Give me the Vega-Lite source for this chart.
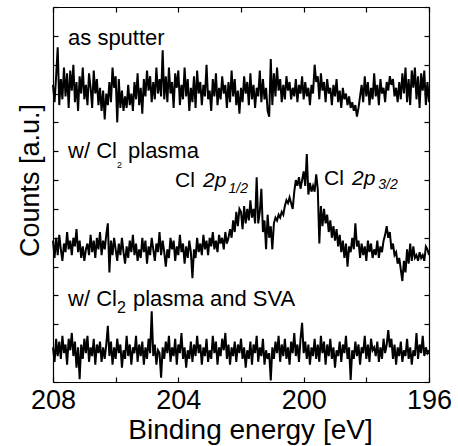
{
  "$schema": "https://vega.github.io/schema/vega-lite/v6.json",
  "width": 376,
  "height": 375,
  "autosize": {"type": "none"},
  "padding": {"left": 53, "top": 7, "right": 29, "bottom": 64},
  "background": "white",
  "config": {
    "view": {"stroke": null},
    "font": "Liberation Sans",
    "axis": {
      "domainColor": "black", "domainWidth": 1.2,
      "tickColor": "black", "tickWidth": 1.2, "tickSize": -5,
      "grid": false,
      "labelFont": "Liberation Sans", "titleFont": "Liberation Sans",
      "labelColor": "black", "titleColor": "black", "titleFontWeight": "normal"
    }
  },
  "datasets": {
    "spectra": [
      {"x":208,"a":10.3,"b":4.9,"c":1.2},{"x":207.95,"a":9.7,"b":4.3,"c":0.7},{"x":207.9,"a":10.6,"b":5.0,"c":1.5},{"x":207.85,"a":11.6,"b":4.4,"c":0.9},{"x":207.8,"a":9.6,"b":5.1,"c":1.4},{"x":207.75,"a":10.5,"b":4.6,"c":0.8},{"x":207.7,"a":9.8,"b":4.2,"c":1.6},{"x":207.65,"a":10.9,"b":4.8,"c":1.0},{"x":207.6,"a":9.9,"b":4.5,"c":1.3},{"x":207.55,"a":10.7,"b":5.2,"c":0.6},
      {"x":207.5,"a":9.5,"b":4.6,"c":1.5},{"x":207.45,"a":10.8,"b":4.9,"c":1.1},{"x":207.4,"a":10.1,"b":4.4,"c":1.7},{"x":207.35,"a":11.0,"b":5.0,"c":0.9},{"x":207.3,"a":9.7,"b":4.7,"c":1.4},{"x":207.25,"a":10.4,"b":5.3,"c":0.5},{"x":207.2,"a":9.4,"b":4.5,"c":1.2},{"x":207.15,"a":10.6,"b":4.9,"c":0.1},{"x":207.1,"a":10.0,"b":4.3,"c":1.3},{"x":207.05,"a":10.9,"b":4.7,"c":0.8},
      {"x":207,"a":9.8,"b":4.2,"c":1.5},{"x":206.95,"a":10.3,"b":4.6,"c":1.0},{"x":206.9,"a":9.6,"b":4.8,"c":1.6},{"x":206.85,"a":10.7,"b":4.4,"c":0.7},{"x":206.8,"a":10.2,"b":5.1,"c":1.2},{"x":206.75,"a":9.5,"b":4.5,"c":0.9},{"x":206.7,"a":10.8,"b":4.9,"c":1.5},{"x":206.65,"a":10.0,"b":4.3,"c":0.6},{"x":206.6,"a":10.5,"b":5.0,"c":1.3},{"x":206.55,"a":9.6,"b":4.6,"c":1.0},
      {"x":206.5,"a":10.2,"b":5.2,"c":1.4},{"x":206.45,"a":9.4,"b":4.4,"c":0.7},{"x":206.4,"a":10.1,"b":4.9,"c":1.2},{"x":206.35,"a":9.1,"b":4.6,"c":0.8},{"x":206.3,"a":10.0,"b":5.1,"c":1.3},{"x":206.25,"a":9.6,"b":5.5,"c":1.95},{"x":206.2,"a":10.4,"b":3.8,"c":0.9},{"x":206.15,"a":9.7,"b":4.9,"c":1.4},{"x":206.1,"a":10.9,"b":4.4,"c":0.6},{"x":206.05,"a":10.2,"b":5.0,"c":1.2},
      {"x":206,"a":10.6,"b":4.6,"c":0.8},{"x":205.95,"a":9.0,"b":4.2,"c":1.5},{"x":205.9,"a":10.5,"b":4.8,"c":1.0},{"x":205.85,"a":9.5,"b":4.4,"c":1.3},{"x":205.8,"a":10.1,"b":5.0,"c":0.5},{"x":205.75,"a":9.4,"b":4.5,"c":1.1},{"x":205.7,"a":9.9,"b":4.1,"c":0.8},{"x":205.65,"a":9.5,"b":4.7,"c":1.6},{"x":205.6,"a":10.3,"b":4.3,"c":0.9},{"x":205.55,"a":9.6,"b":4.9,"c":1.3},
      {"x":205.5,"a":10.0,"b":4.5,"c":0.6},{"x":205.45,"a":9.4,"b":5.1,"c":1.2},{"x":205.4,"a":10.4,"b":4.4,"c":1.0},{"x":205.35,"a":9.8,"b":4.8,"c":1.6},{"x":205.3,"a":10.7,"b":4.2,"c":0.7},{"x":205.25,"a":9.6,"b":4.6,"c":1.3},{"x":205.2,"a":10.2,"b":4.3,"c":0.9},{"x":205.15,"a":9.3,"b":5.0,"c":1.4},{"x":205.1,"a":10.5,"b":4.5,"c":0.6},{"x":205.05,"a":9.9,"b":4.9,"c":1.2},
      {"x":205,"a":10.8,"b":4.1,"c":0.8},{"x":204.95,"a":10.1,"b":4.7,"c":1.5},{"x":204.9,"a":10.6,"b":4.4,"c":1.0},{"x":204.85,"a":9.7,"b":5.0,"c":2.45},{"x":204.8,"a":10.4,"b":4.6,"c":0.9},{"x":204.75,"a":9.8,"b":4.2,"c":1.3},{"x":204.7,"a":10.9,"b":4.8,"c":0.6},{"x":204.65,"a":10.0,"b":4.5,"c":1.1},{"x":204.6,"a":10.5,"b":5.2,"c":1.0},{"x":204.55,"a":9.9,"b":4.4,"c":0.15},
      {"x":204.5,"a":11.5,"b":4.9,"c":1.2},{"x":204.45,"a":9.8,"b":4.5,"c":0.8},{"x":204.4,"a":10.6,"b":4.0,"c":1.4},{"x":204.35,"a":9.7,"b":4.6,"c":1.0},{"x":204.3,"a":10.9,"b":4.3,"c":1.6},{"x":204.25,"a":10.0,"b":5.0,"c":0.7},{"x":204.2,"a":10.4,"b":4.6,"c":1.2},{"x":204.15,"a":9.5,"b":4.9,"c":0.9},{"x":204.1,"a":10.7,"b":4.2,"c":1.5},{"x":204.05,"a":10.2,"b":4.7,"c":0.6},
      {"x":204,"a":10.8,"b":4.4,"c":1.3},{"x":203.95,"a":9.6,"b":5.1,"c":1.0},{"x":203.9,"a":10.3,"b":4.5,"c":1.7},{"x":203.85,"a":9.8,"b":4.8,"c":0.8},{"x":203.8,"a":10.9,"b":4.1,"c":1.2},{"x":203.75,"a":9.9,"b":4.7,"c":0.5},{"x":203.7,"a":10.5,"b":4.3,"c":1.1},{"x":203.65,"a":9.4,"b":4.9,"c":0.8},{"x":203.6,"a":10.2,"b":4.5,"c":1.4},{"x":203.55,"a":9.7,"b":3.6,"c":0.7},
      {"x":203.5,"a":10.6,"b":4.6,"c":1.3},{"x":203.45,"a":9.5,"b":4.3,"c":0.9},{"x":203.4,"a":10.8,"b":5.0,"c":1.6},{"x":203.35,"a":10.0,"b":4.5,"c":1.0},{"x":203.3,"a":10.4,"b":4.8,"c":1.3},{"x":203.25,"a":9.6,"b":4.4,"c":0.6},{"x":203.2,"a":10.3,"b":5.1,"c":1.2},{"x":203.15,"a":9.9,"b":4.6,"c":0.9},{"x":203.1,"a":11.0,"b":4.9,"c":1.5},{"x":203.05,"a":9.8,"b":4.4,"c":0.7},
      {"x":203,"a":10.1,"b":5.0,"c":1.1},{"x":202.95,"a":9.4,"b":4.7,"c":0.8},{"x":202.9,"a":10.5,"b":5.2,"c":1.6},{"x":202.85,"a":9.9,"b":4.6,"c":1.0},{"x":202.8,"a":10.7,"b":4.9,"c":1.4},{"x":202.75,"a":9.6,"b":4.5,"c":0.6},{"x":202.7,"a":10.2,"b":5.1,"c":1.2},{"x":202.65,"a":9.8,"b":4.8,"c":0.9},{"x":202.6,"a":10.6,"b":5.0,"c":1.5},{"x":202.55,"a":10.0,"b":4.6,"c":1.1},
      {"x":202.5,"a":10.3,"b":5.2,"c":1.7},{"x":202.45,"a":9.5,"b":4.8,"c":0.8},{"x":202.4,"a":10.4,"b":5.0,"c":1.3},{"x":202.35,"a":9.7,"b":5.3,"c":0.6},{"x":202.3,"a":10.8,"b":5.0,"c":1.2},{"x":202.25,"a":9.9,"b":5.6,"c":0.9},{"x":202.2,"a":10.5,"b":5.2,"c":1.4},{"x":202.15,"a":9.6,"b":5.9,"c":0.7},{"x":202.1,"a":10.1,"b":5.4,"c":1.3},{"x":202.05,"a":9.3,"b":6.0,"c":1.0},
      {"x":202,"a":10.2,"b":5.9,"c":1.5},{"x":201.95,"a":9.7,"b":5.3,"c":0.8},{"x":201.9,"a":10.6,"b":6.1,"c":1.2},{"x":201.85,"a":10.0,"b":5.5,"c":0.5},{"x":201.8,"a":10.4,"b":6.0,"c":1.1},{"x":201.75,"a":9.6,"b":5.6,"c":0.8},{"x":201.7,"a":10.7,"b":6.3,"c":1.4},{"x":201.65,"a":9.8,"b":5.7,"c":0.6},{"x":201.6,"a":10.3,"b":6.0,"c":1.3},{"x":201.55,"a":9.5,"b":5.5,"c":1.0},
      {"x":201.5,"a":10.2,"b":7.1,"c":1.6},{"x":201.45,"a":9.9,"b":5.5,"c":0.7},{"x":201.4,"a":10.8,"b":5.9,"c":1.2},{"x":201.35,"a":9.7,"b":6.7,"c":0.9},{"x":201.3,"a":10.5,"b":5.2,"c":1.5},{"x":201.25,"a":9.8,"b":5.6,"c":0.6},{"x":201.2,"a":10.2,"b":4.6,"c":1.1},{"x":201.15,"a":9.4,"b":5.8,"c":0.8},{"x":201.1,"a":9.2,"b":5.0,"c":1.0},{"x":201.05,"a":11.2,"b":5.4,"c":0.05},
      {"x":201,"a":9.6,"b":4.6,"c":1.2},{"x":200.95,"a":10.7,"b":5.5,"c":0.8},{"x":200.9,"a":9.9,"b":5.7,"c":1.4},{"x":200.85,"a":10.9,"b":5.6,"c":1.0},{"x":200.8,"a":10.1,"b":5.8,"c":1.6},{"x":200.75,"a":10.5,"b":5.7,"c":0.7},{"x":200.7,"a":9.7,"b":5.9,"c":1.3},{"x":200.65,"a":10.3,"b":5.8,"c":0.9},{"x":200.6,"a":9.8,"b":6.1,"c":1.5},{"x":200.55,"a":10.6,"b":6.3,"c":0.8},
      {"x":200.5,"a":10.1,"b":6.2,"c":1.2},{"x":200.45,"a":10.4,"b":6.4,"c":0.6},{"x":200.4,"a":9.8,"b":6.2,"c":1.4},{"x":200.35,"a":10.2,"b":6.0,"c":1.0},{"x":200.3,"a":9.9,"b":6.6,"c":1.7},{"x":200.25,"a":10.5,"b":7.0,"c":0.9},{"x":200.2,"a":9.7,"b":6.8,"c":1.3},{"x":200.15,"a":10.3,"b":7.1,"c":0.7},{"x":200.1,"a":10.0,"b":6.7,"c":1.5},{"x":200.05,"a":10.6,"b":7.0,"c":2.05},
      {"x":200,"a":9.8,"b":7.3,"c":1.0},{"x":199.95,"a":10.4,"b":6.8,"c":1.4},{"x":199.9,"a":9.9,"b":7.9,"c":0.8},{"x":199.85,"a":10.2,"b":6.5,"c":1.3},{"x":199.8,"a":9.6,"b":6.9,"c":0.6},{"x":199.75,"a":10.3,"b":6.6,"c":1.2},{"x":199.7,"a":10.0,"b":6.8,"c":0.9},{"x":199.65,"a":11.0,"b":6.6,"c":1.5},{"x":199.6,"a":10.4,"b":7.2,"c":0.8},{"x":199.55,"a":10.6,"b":6.7,"c":1.3},
      {"x":199.5,"a":9.8,"b":4.8,"c":0.7},{"x":199.45,"a":10.7,"b":6.1,"c":1.6},{"x":199.4,"a":10.1,"b":5.4,"c":1.0},{"x":199.35,"a":10.4,"b":6.0,"c":1.4},{"x":199.3,"a":9.7,"b":5.5,"c":0.6},{"x":199.25,"a":10.5,"b":5.8,"c":1.3},{"x":199.2,"a":10.0,"b":5.2,"c":0.9},{"x":199.15,"a":10.2,"b":5.6,"c":1.5},{"x":199.1,"a":9.6,"b":5.0,"c":0.8},{"x":199.05,"a":10.3,"b":5.4,"c":1.2},
      {"x":199,"a":9.9,"b":4.9,"c":0.5},{"x":198.95,"a":10.5,"b":5.3,"c":1.1},{"x":198.9,"a":9.7,"b":4.7,"c":0.9},{"x":198.85,"a":10.1,"b":5.1,"c":1.4},{"x":198.8,"a":9.5,"b":4.5,"c":0.7},{"x":198.75,"a":10.2,"b":4.9,"c":1.3},{"x":198.7,"a":9.8,"b":4.3,"c":1.0},{"x":198.65,"a":10.0,"b":4.8,"c":1.6},{"x":198.6,"a":9.6,"b":4.0,"c":0.8},{"x":198.55,"a":9.9,"b":4.7,"c":1.2},
      {"x":198.5,"a":9.5,"b":4.5,"c":0.07},{"x":198.45,"a":9.7,"b":5.0,"c":1.1},{"x":198.4,"a":9.4,"b":4.6,"c":0.8},{"x":198.35,"a":9.6,"b":5.5,"c":1.4},{"x":198.3,"a":9.2,"b":4.7,"c":0.9},{"x":198.25,"a":9.5,"b":4.9,"c":1.3},{"x":198.2,"a":9.9,"b":4.3,"c":0.6},{"x":198.15,"a":10.3,"b":4.8,"c":1.2},{"x":198.1,"a":9.7,"b":4.4,"c":1.0},{"x":198.05,"a":10.6,"b":4.7,"c":1.6},
      {"x":198,"a":9.9,"b":4.2,"c":0.8},{"x":197.95,"a":10.4,"b":4.9,"c":1.3},{"x":197.9,"a":9.6,"b":4.5,"c":0.7},{"x":197.85,"a":10.2,"b":4.8,"c":1.5},{"x":197.8,"a":9.8,"b":4.3,"c":1.1},{"x":197.75,"a":10.7,"b":4.6,"c":1.2},{"x":197.7,"a":9.9,"b":4.4,"c":0.9},{"x":197.65,"a":10.3,"b":4.9,"c":1.4},{"x":197.6,"a":9.6,"b":4.3,"c":0.7},{"x":197.55,"a":10.5,"b":4.7,"c":1.2},
      {"x":197.5,"a":10.0,"b":4.5,"c":0.8},{"x":197.45,"a":10.2,"b":4.9,"c":1.5},{"x":197.4,"a":9.7,"b":5.1,"c":1.0},{"x":197.35,"a":10.4,"b":5.4,"c":1.3},{"x":197.3,"a":10.1,"b":5.0,"c":1.8},{"x":197.25,"a":10.6,"b":5.2,"c":1.2},{"x":197.2,"a":10.3,"b":4.6,"c":1.5},{"x":197.15,"a":10.5,"b":4.8,"c":0.8},{"x":197.1,"a":9.9,"b":4.4,"c":1.3},{"x":197.05,"a":10.2,"b":4.5,"c":0.6},
      {"x":197,"a":9.7,"b":4.1,"c":1.2},{"x":196.95,"a":10.4,"b":4.3,"c":0.9},{"x":196.9,"a":9.8,"b":3.9,"c":1.4},{"x":196.85,"a":10.7,"b":3.5,"c":0.7},{"x":196.8,"a":10.0,"b":4.2,"c":1.1},{"x":196.75,"a":10.9,"b":3.8,"c":0.9},{"x":196.7,"a":9.7,"b":4.6,"c":1.5},{"x":196.65,"a":10.5,"b":4.1,"c":0.8},{"x":196.6,"a":9.6,"b":4.8,"c":1.2},{"x":196.55,"a":10.8,"b":4.2,"c":0.6},
      {"x":196.5,"a":10.2,"b":4.7,"c":1.1},{"x":196.45,"a":10.9,"b":4.3,"c":0.9},{"x":196.4,"a":9.8,"b":4.4,"c":1.7},{"x":196.35,"a":10.6,"b":4.2,"c":0.8},{"x":196.3,"a":9.5,"b":4.5,"c":1.3},{"x":196.25,"a":10.7,"b":4.3,"c":1.0},{"x":196.2,"a":10.1,"b":4.4,"c":1.6},{"x":196.15,"a":10.8,"b":4.2,"c":0.9},{"x":196.1,"a":9.6,"b":4.7,"c":1.2},{"x":196.05,"a":10.4,"b":4.6,"c":1.0},{"x":196,"a":9.7,"b":4.4,"c":1.1}
    ]
  },
  "resolve": {"axis": {"x": "independent", "y": "independent"}},
  "layer": [
    {
      "data": {"name": "spectra"},
      "transform": [{"fold": ["a", "b", "c"], "as": ["trace", "counts"]}],
      "mark": {"type": "line", "color": "black", "strokeWidth": 2},
      "encoding": {
        "x": {
          "field": "x", "type": "quantitative",
          "scale": {"domain": [196, 208], "reverse": true, "nice": false, "zero": false},
          "axis": {
            "orient": "bottom",
            "values": [196, 198, 200, 202, 204, 206, 208],
            "labelExpr": "datum.value % 4 == 0 ? datum.label : ''",
            "labelFontSize": 27, "labelBaseline": "alphabetic", "labelPadding": 31,
            "labelFlush": false, "labelOverlap": false,
            "title": "Binding energy [eV]", "titleFontSize": 28,
            "titleX": 197, "titleY": 56, "titleBaseline": "alphabetic", "titleAlign": "center"
          }
        },
        "y": {
          "field": "counts", "type": "quantitative",
          "scale": {"domain": [0, 13], "nice": false, "zero": false},
          "axis": {
            "orient": "left",
            "values": [0, 1, 2, 3, 4, 5, 6, 7, 8, 9, 10, 11, 12, 13],
            "labels": false,
            "title": "Counts [a.u.]", "titleFontSize": 27, "titleAngle": -90,
            "titleX": -15, "titleY": 173, "titleBaseline": "alphabetic", "titleAlign": "center"
          }
        },
        "detail": {"field": "trace"}
      }
    },
    {
      "data": {"values": [
        {"x": 207.52, "y": 11.68, "t": "as sputter"},
        {"x": 207.52, "y": 7.765, "t": "w/ Cl"},
        {"x": 205.606, "y": 7.765, "t": "plasma"},
        {"x": 207.52, "y": 2.635, "t": "w/ Cl"},
        {"x": 205.447, "y": 2.635, "t": "plasma and SVA"}
      ]},
      "mark": {"type": "text", "align": "left", "baseline": "alphabetic", "fontSize": 22, "font": "Liberation Sans", "color": "black"},
      "encoding": {
        "x": {"field": "x", "type": "quantitative",
          "axis": {"orient": "top", "values": [196, 198, 200, 202, 204, 206, 208], "labels": false, "title": null}},
        "y": {"field": "y", "type": "quantitative",
          "axis": {"orient": "right", "values": [0, 1, 2, 3, 4, 5, 6, 7, 8, 9, 10, 11, 12, 13], "labels": false, "title": null}},
        "text": {"field": "t"}
      }
    },
    {
      "data": {"values": [
        {"x": 204.106, "y": 6.77, "t": "Cl"},
        {"x": 199.351, "y": 6.84, "t": "Cl"}
      ]},
      "mark": {"type": "text", "align": "left", "baseline": "alphabetic", "fontSize": 21, "font": "Liberation Sans", "color": "black"},
      "encoding": {
        "x": {"field": "x", "type": "quantitative", "axis": null},
        "y": {"field": "y", "type": "quantitative", "axis": null},
        "text": {"field": "t"}
      }
    },
    {
      "data": {"values": [
        {"x": 203.213, "y": 6.77, "t": "2p"},
        {"x": 198.457, "y": 6.84, "t": "2p"}
      ]},
      "mark": {"type": "text", "align": "left", "baseline": "alphabetic", "fontSize": 21, "fontStyle": "italic", "font": "Liberation Sans", "color": "black"},
      "encoding": {
        "x": {"field": "x", "type": "quantitative", "axis": null},
        "y": {"field": "y", "type": "quantitative", "axis": null},
        "text": {"field": "t"}
      }
    },
    {
      "data": {"values": [
        {"x": 202.4, "y": 6.542, "t": "1/2"},
        {"x": 197.62, "y": 6.691, "t": "3/2"}
      ]},
      "mark": {"type": "text", "align": "left", "baseline": "alphabetic", "fontSize": 14, "fontStyle": "italic", "font": "Liberation Sans", "color": "black"},
      "encoding": {
        "x": {"field": "x", "type": "quantitative", "axis": null},
        "y": {"field": "y", "type": "quantitative", "axis": null},
        "text": {"field": "t"}
      }
    },
    {
      "data": {"values": [{"x": 205.957, "y": 7.42, "t": "2"}]},
      "mark": {"type": "text", "align": "left", "baseline": "alphabetic", "fontSize": 9, "font": "Liberation Sans", "color": "black"},
      "encoding": {
        "x": {"field": "x", "type": "quantitative", "axis": null},
        "y": {"field": "y", "type": "quantitative", "axis": null},
        "text": {"field": "t"}
      }
    },
    {
      "data": {"values": [{"x": 205.957, "y": 2.392, "t": "2"}]},
      "mark": {"type": "text", "align": "left", "baseline": "alphabetic", "fontSize": 16, "font": "Liberation Sans", "color": "black"},
      "encoding": {
        "x": {"field": "x", "type": "quantitative", "axis": null},
        "y": {"field": "y", "type": "quantitative", "axis": null},
        "text": {"field": "t"}
      }
    }
  ]
}
